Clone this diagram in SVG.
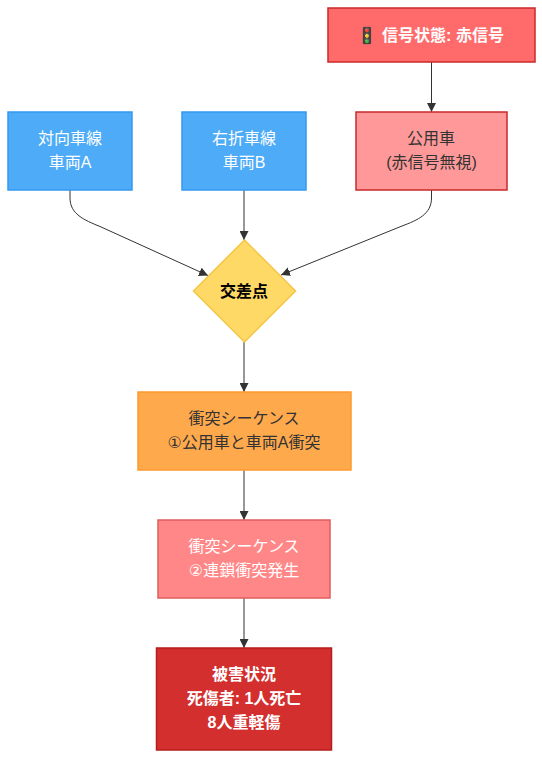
<svg xmlns="http://www.w3.org/2000/svg" width="542" height="758" viewBox="0 0 542 758">
<style>
text{font-family:"Liberation Sans","Noto Sans CJK JP",sans-serif;font-size:16px;text-anchor:middle}
.w{fill:#fff}.k{fill:#333}.b{font-weight:bold}
.d{font-family:"DejaVu Sans",sans-serif}
rect,polygon.n{stroke-width:1.500}
.e{fill:none;stroke:#333;stroke-width:1}
.h{fill:#333}
</style>
<defs><marker id="a" markerUnits="userSpaceOnUse" markerWidth="9" markerHeight="9" viewBox="0 0 8 8" refX="8" refY="4" orient="auto"><path class="h" d="M0 0L8 4L0 8z"/></marker></defs>
<g id="connectors">
<path class="e" marker-end="url(#a)" d="M431.500 62V112"/>
<path class="e" marker-end="url(#a)" d="M70 190V198C70 214 84 220 100 226.500L208 275.500"/>
<path class="e" marker-end="url(#a)" d="M244 190V240"/>
<path class="e" marker-end="url(#a)" d="M431.500 190V198C431.500 214 418 220 402 226L281 275"/>
<path class="e" marker-end="url(#a)" d="M244 342V392"/>
<path class="e" marker-end="url(#a)" d="M244 470V520"/>
<path class="e" marker-end="url(#a)" d="M244 598V648"/>
</g>
<g id="signal"><rect x="328" y="8" width="207" height="54" fill="#ff6b6b" stroke="#c92a2a"/><text class="w b" x="443" y="40.500">信号状態: 赤信号</text><text class="w b" x="367" y="40.500">🚦</text></g>
<g id="carA"><rect x="8" y="112" width="124" height="78" fill="#4dabf7" stroke="#339af0"/><text class="w" x="70" y="144">対向車線</text><text class="w" x="70" y="168">車両A</text></g>
<g id="carB"><rect x="182" y="112" width="124" height="78" fill="#4dabf7" stroke="#339af0"/><text class="w" x="244" y="144">右折車線</text><text class="w" x="244" y="168">車両B</text></g>
<g id="official"><rect x="356" y="112" width="151" height="78" fill="#ff9999" stroke="#c92a2a"/><text class="k" x="431" y="144">公用車</text><text class="k" x="431.500" y="168">(赤信号無視)</text></g>
<g id="crossing"><polygon class="n" points="244.500,240 295.500,291 244.500,342 193.500,291" fill="#ffd966" stroke="#f4c542"/><text class="b" fill="#000" x="244" y="296.500">交差点</text></g>
<g id="seq1"><rect x="138" y="392" width="213" height="78" fill="#ffa94d" stroke="#fd9a2e"/><text class="k" x="244" y="424">衝突シーケンス</text><text class="k" x="244" y="448"><tspan class="d">①</tspan>公用車と車両A衝突</text></g>
<g id="seq2"><rect x="158" y="520" width="172" height="78" fill="#ff8787" stroke="#e05c5c"/><text class="w" x="244" y="552">衝突シーケンス</text><text class="w" x="244" y="576"><tspan class="d">②</tspan>連鎖衝突発生</text></g>
<g id="damage"><rect x="156.500" y="648" width="175" height="102" fill="#d32f2f" stroke="#b71c1c"/><text class="w b" x="244" y="680">被害状況</text><text class="w b" x="244" y="704">死傷者: 1人死亡</text><text class="w b" x="244" y="728">8人重軽傷</text></g>
</svg>
